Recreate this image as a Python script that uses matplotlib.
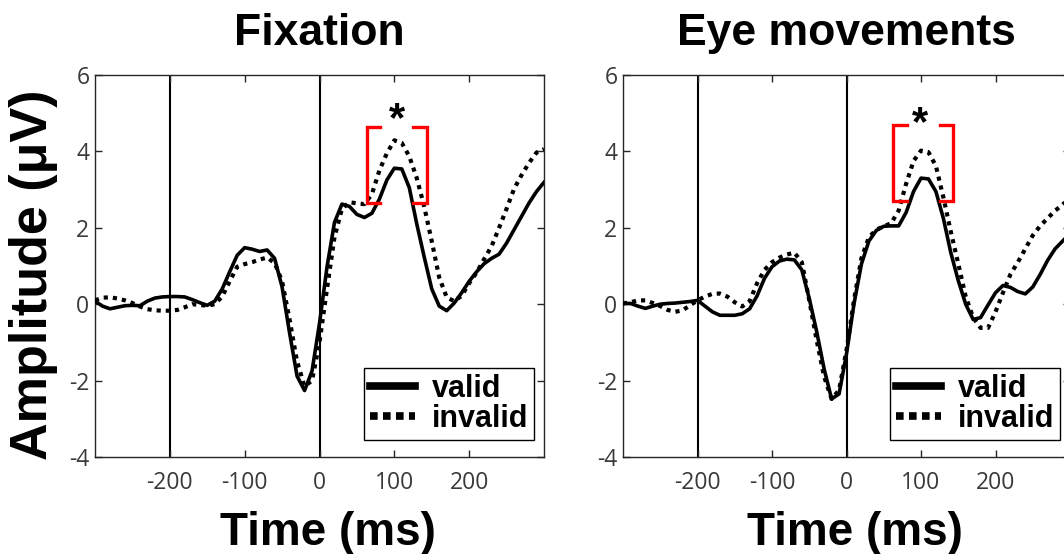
import matplotlib
matplotlib.use('Agg')
import matplotlib.pyplot as plt
from matplotlib.lines import Line2D

plt.rcParams['axes.unicode_minus'] = False

# ERP waveforms at 10 ms steps
time_ms = list(range(-300, 301, 10))

fix_valid = [0.08, -0.05, -0.12, -0.08, -0.04, -0.03, -0.04, 0.08, 0.16, 0.19,
             0.2, 0.2, 0.19, 0.12, 0.04, -0.03, 0.08, 0.4, 0.85, 1.28,
             1.48, 1.44, 1.38, 1.42, 1.2, 0.45, -0.75, -1.88, -2.26, -1.75,
             -0.5, 0.97, 2.14, 2.62, 2.56, 2.35, 2.27, 2.38, 2.75, 3.25,
             3.56, 3.54, 3.05, 2.1, 1.23, 0.4, -0.05, -0.17, 0.03, 0.3,
             0.6, 0.85, 1.06, 1.2, 1.31, 1.6, 1.95, 2.3, 2.65, 2.95, 3.19]
fix_invalid = [0.1, 0.17, 0.18, 0.15, 0.1, 0.03, -0.06, -0.13, -0.16, -0.17,
               -0.17, -0.15, -0.08, 0.0, -0.02, -0.04, 0.0, 0.2, 0.6, 0.98,
               1.05, 1.1, 1.17, 1.22, 1.08, 0.6, -0.4, -1.5, -2.15, -2.0,
               -1.0, 0.4, 1.75, 2.5, 2.67, 2.64, 2.62, 2.88, 3.5, 3.95,
               4.29, 4.22, 3.87, 3.3, 2.55, 1.65, 0.7, 0.18, 0.08, 0.22,
               0.55, 0.83, 1.18, 1.52, 2.0, 2.5, 3.02, 3.38, 3.7, 3.97, 4.06]
eye_valid = [0.02, 0.02, -0.05, -0.11, -0.05, 0.0, 0.02, 0.03, 0.05, 0.07,
             0.1, -0.05, -0.2, -0.29, -0.29, -0.29, -0.25, -0.12, 0.22, 0.68,
             0.98, 1.13, 1.18, 1.16, 0.9, 0.15, -0.72, -1.7, -2.48, -2.35,
             -1.3, 0.0, 1.05, 1.65, 1.93, 2.04, 2.05, 2.05, 2.4, 2.95,
             3.3, 3.28, 2.95, 2.25, 1.35, 0.62, 0.0, -0.4, -0.35, -0.02,
             0.3, 0.49, 0.44, 0.33, 0.27, 0.45, 0.78, 1.15, 1.45, 1.65, 1.85]
eye_invalid = [0.02, 0.05, 0.1, 0.1, 0.03, -0.05, -0.15, -0.2, -0.16, -0.03,
               0.1, 0.2, 0.27, 0.28, 0.2, 0.05, -0.06, 0.08, 0.55, 0.9,
               1.1, 1.22, 1.3, 1.35, 1.1, 0.1, -0.95, -1.9, -2.48, -2.25,
               -1.2, 0.1, 1.2, 1.75, 1.95, 2.04, 2.12, 2.45, 3.15, 3.75,
               4.02, 3.98, 3.62, 2.8, 1.9, 1.06, 0.2, -0.35, -0.62, -0.62,
               -0.2, 0.3, 0.78, 1.1, 1.45, 1.8, 2.05, 2.25, 2.45, 2.6, 2.8]

panel_titles = ['Fixation', 'Eye movements']
series_labels = ['valid', 'invalid']
event_ms = [-200, 0]
window_ms = [63, 143]
window_amp = [[2.65, 4.65], [2.7, 4.7]]
star_ms = [104, 99]
star_amp = [5.2, 5.1]
x_ticks = [-200, -100, 0, 100, 200]
y_ticks = [-4, -2, 0, 2, 4, 6]

bold = ['Liberation Sans', 'DejaVu Sans']
axis_col = '#262626'

fig = plt.figure(figsize=(10.64, 5.54), dpi=100)
W, H = 1064, 554
ax_l = fig.add_axes([95 / W, (H - 457) / H, 449 / W, 382 / H])
ax_r = fig.add_axes([623 / W, (H - 457) / H, 447 / W, 382 / H])

panels = [(ax_l, fix_valid, fix_invalid), (ax_r, eye_valid, eye_invalid)]
for i, (ax, valid, invalid) in enumerate(panels):
    for ev in event_ms:
        ax.axvline(ev, color='black', lw=1.5, zorder=1)
    ax.plot(time_ms, valid, color='black', lw=2.6, solid_joinstyle='round', zorder=3)
    ax.plot(time_ms, invalid, color='black', lw=3.0, ls=(0, (1, 1.2)),
            dash_capstyle='butt', zorder=3)

    # red brackets marking the analysis window
    lo, hi = window_amp[i]
    a, b = window_ms
    arm = 18
    ax.plot([a + arm, a, a, a + arm], [hi, hi, lo, lo], color='red', lw=2.4,
            solid_joinstyle='miter', zorder=4)
    ax.plot([b - arm, b, b, b - arm], [hi, hi, lo, lo], color='red', lw=2.4,
            solid_joinstyle='miter', zorder=4)
    ax.text(star_ms[i], star_amp[i] - 0.68, '*', ha='center', va='baseline',
            fontsize=30, fontweight='bold', family=bold)

    ax.set_xlim(-300, 300)
    ax.set_ylim(-4, 6)
    ax.set_xticks(x_ticks)
    ax.set_yticks(y_ticks)
    ax.tick_params(direction='in', top=True, right=True, length=5, width=1,
                   color=axis_col, labelcolor='#3a3a3a', labelsize=16.5)
    ax.tick_params(axis='x', pad=10)
    ax.tick_params(axis='y', pad=4)
    for lab in ax.get_xticklabels() + ax.get_yticklabels():
        lab.set_family(['Open Sans', 'DejaVu Sans'])
    for sp in ax.spines.values():
        sp.set_color(axis_col)
        sp.set_linewidth(1.0)

    ax.set_title(panel_titles[i], fontsize=32, fontweight='bold', family=bold,
                 pad=21.6)
    ax.text(0.518, -0.23, 'Time (ms)', transform=ax.transAxes, ha='center',
            va='baseline', fontsize=33, fontweight='bold', family=bold)

    handles = [Line2D([], [], color='black', lw=5.5),
               Line2D([], [], color='black', lw=5.5, ls=(0, (1, 0.7)),
                      dash_capstyle='butt')]
    leg = ax.legend(handles, series_labels, loc='lower right',
                    bbox_to_anchor=(0.978, 0.045), borderaxespad=0,
                    prop={'family': bold, 'weight': 'bold', 'size': 22},
                    handlelength=1.45, handletextpad=0.55, borderpad=0.2,
                    labelspacing=0.0, fancybox=False, framealpha=1)
    leg.get_frame().set_edgecolor('black')
    leg.get_frame().set_linewidth(1.0)

fig.text(34 / W, 1 - 275 / H, 'Amplitude (\u03bcV)', rotation=90, ha='center',
         va='center', fontsize=37.5, fontweight='bold', family=bold)

fig.savefig('out.png', dpi=100)
